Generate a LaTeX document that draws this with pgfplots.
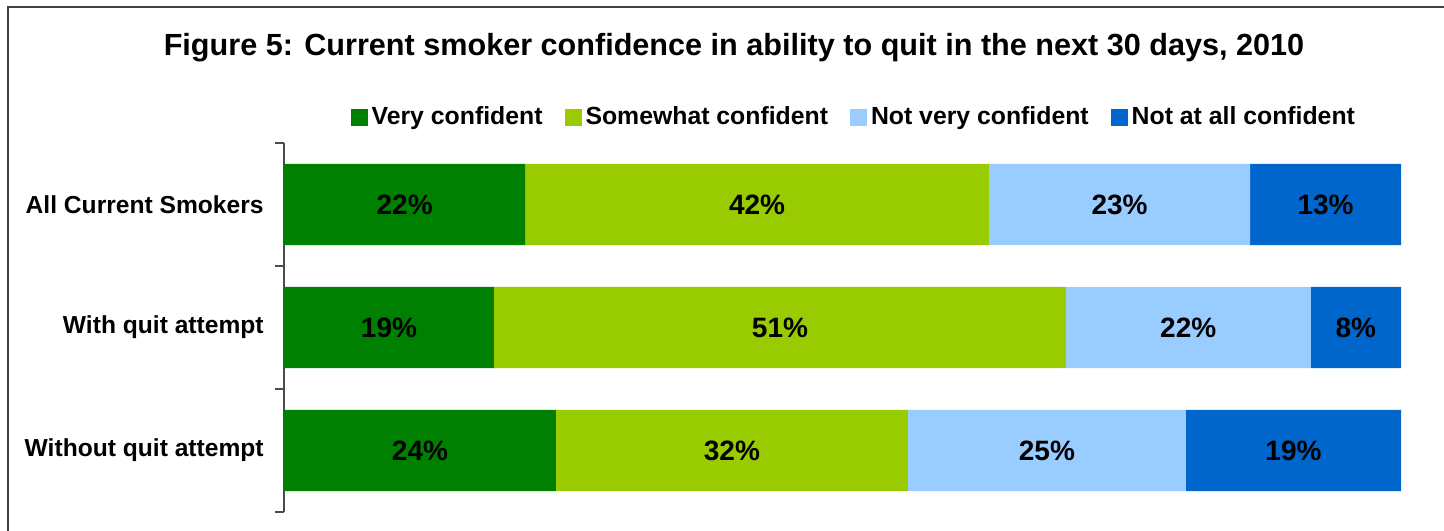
\documentclass[border=0pt]{standalone}
\usepackage{pgfplots}
\pgfplotsset{compat=1.18}
\usepackage{pgfplotstable}
\usepackage{fontspec}
\setmainfont{Liberation Sans}
\definecolor{vc}{HTML}{008000}
\definecolor{sc}{HTML}{99CC00}
\definecolor{nv}{HTML}{99CCFF}
\definecolor{na}{HTML}{0066CC}
\pgfplotstableread{
y  a     la b    lb c    lc d     ld
2  21.6  22 41.5 42 23.4 23 13.5  13
1  18.8  19 51.2 51 21.9 22 8.1   8
0  24.35 24 31.5 32 24.9 25 19.25 19
}\data
\begin{document}
\begin{tikzpicture}
\useasboundingbox (0,0) rectangle (722pt,-265pt);
\draw[black!75, line width=1pt] (4pt,-270pt) -- (4pt,-3.5pt) -- (730pt,-3.5pt);
\node[font=\bfseries\fontsize{15.3}{18}\selectfont] at (367pt,-24pt) {Figure 5: Current smoker confidence in ability to quit in the next 30 days, 2010};
\begin{axis}[
  at={(142pt,-256pt)}, anchor=south west,
  scale only axis, width=558.5pt, height=184.5pt,
  xbar stacked, bar width=0.66,
  xmin=0, xmax=100, ymin=-0.5, ymax=2.5,
  axis x line=none, axis y line=left,
  y axis line style={-, draw=black!70, line width=1pt},
  ytick={0,1,2},
  yticklabels={Without quit attempt, With quit attempt, All Current Smokers},
  major tick length=0pt,
  extra y ticks={-0.5,0.5,1.5,2.5},
  extra y tick labels={},
  extra y tick style={tick align=outside, major tick length=4.5pt, tick style={draw=black!70, line width=1pt}},
  yticklabel style={anchor=east, inner sep=0pt, xshift=-10pt, font=\bfseries\fontsize{12.3}{15}\selectfont},
  point meta=explicit symbolic,
  nodes near coords={\pgfplotspointmeta\%},
  every node near coord/.append style={anchor=center, font=\bfseries\fontsize{14}{17}\selectfont, text=black},
  legend columns=4,
  legend style={draw=none, at={(0.511,1)}, anchor=center, yshift=13pt, font=\bfseries\fontsize{12.4}{15}\selectfont, /tikz/every even column/.append style={column sep=9pt}, nodes={inner sep=2pt}},
  legend image code/.code={\fill[#1] (0pt,-4.25pt) rectangle (8.5pt,4.25pt);},
]
\addplot[fill=vc, draw=none] table[x=a, y=y, meta=la] {\data};
\addplot[fill=sc, draw=none] table[x=b, y=y, meta=lb] {\data};
\addplot[fill=nv, draw=none] table[x=c, y=y, meta=lc] {\data};
\addplot[fill=na, draw=none] table[x=d, y=y, meta=ld] {\data};
\legend{Very confident, Somewhat confident, Not very confident, Not at all confident}
\end{axis}
\end{tikzpicture}
\end{document}
